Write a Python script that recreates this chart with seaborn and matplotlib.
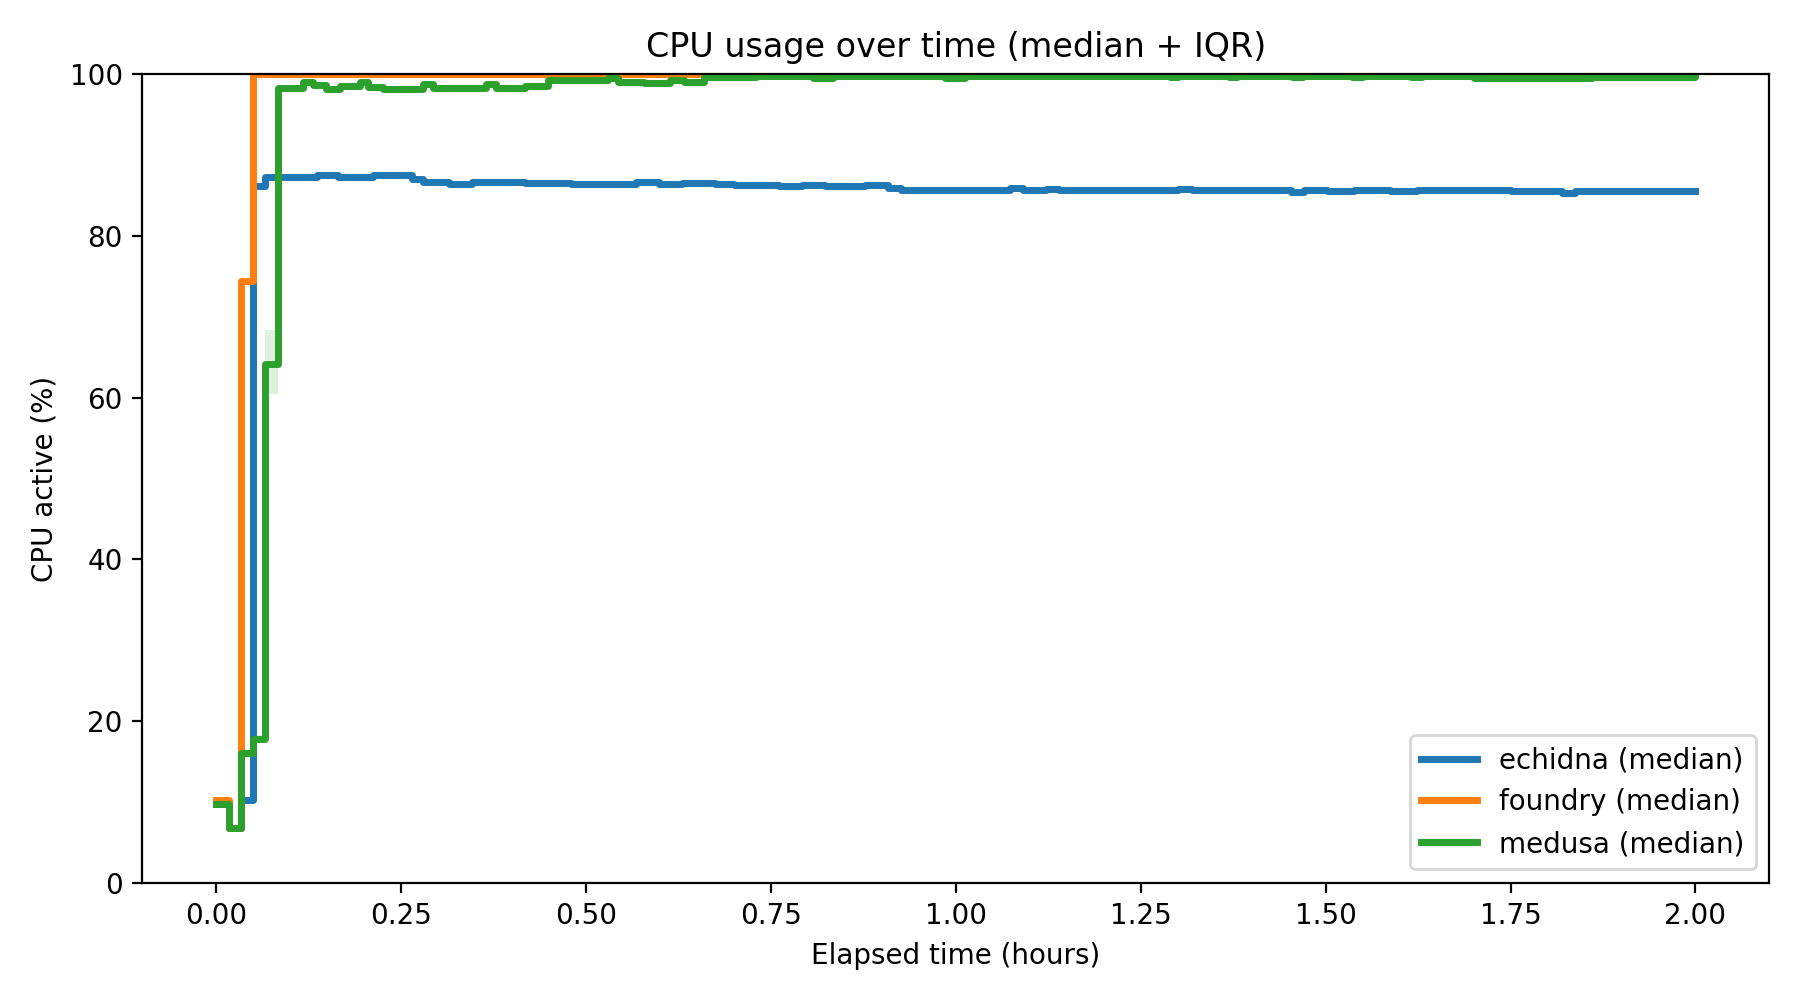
import pandas as pd
import numpy as np
import matplotlib.pyplot as plt
import seaborn as sns

# Median CPU usage as step breakpoints (hours, %)
echidna_t = [0.0, 0.0167, 0.0333, 0.05, 0.0667, 0.136, 0.165, 0.212, 0.265, 0.279,
             0.315, 0.346, 0.418, 0.48, 0.568, 0.599, 0.63, 0.674, 0.70, 0.761,
             0.792, 0.823, 0.877, 0.908, 0.926, 0.944, 0.957, 1.024, 1.073, 1.091,
             1.122, 1.14, 1.301, 1.319, 1.453, 1.471, 1.502, 1.538, 1.587, 1.623,
             1.75, 1.819, 1.837, 2.0]
echidna_v = [9.8, 6.8, 10.3, 86.2, 87.3, 87.55, 87.3, 87.5, 87.0, 86.6,
             86.4, 86.6, 86.5, 86.4, 86.65, 86.4, 86.5, 86.4, 86.3, 86.2,
             86.3, 86.2, 86.3, 85.9, 85.6, 85.7, 85.6, 85.7, 85.85, 85.6,
             85.75, 85.6, 85.75, 85.6, 85.4, 85.6, 85.5, 85.6, 85.5, 85.6,
             85.5, 85.3, 85.5, 85.5]

foundry_t = [0.0, 0.0167, 0.0333, 0.05, 2.0]
foundry_v = [10.3, 6.8, 74.4, 100.0, 100.0]

medusa_t = [0.0, 0.0167, 0.0333, 0.05, 0.0667, 0.0833, 0.118, 0.131, 0.149, 0.167,
            0.194, 0.205, 0.226, 0.28, 0.293, 0.365, 0.378, 0.418, 0.449, 0.53,
            0.543, 0.579, 0.614, 0.632, 0.659, 0.73, 0.807, 0.834, 0.986, 1.012,
            1.29, 1.30, 1.37, 1.38, 1.455, 1.47, 1.535, 1.55, 1.615, 1.63,
            1.70, 1.86, 2.0]
medusa_v = [9.8, 6.8, 16.1, 17.8, 64.2, 98.3, 99.0, 98.6, 98.1, 98.55,
            99.0, 98.4, 98.2, 98.8, 98.3, 98.8, 98.3, 98.55, 99.2, 99.5,
            99.0, 98.9, 99.2, 99.0, 99.6, 99.75, 99.55, 99.75, 99.55, 99.75,
            99.6, 99.75, 99.6, 99.75, 99.6, 99.75, 99.6, 99.75, 99.6, 99.75,
            99.5, 99.6, 99.7]

# IQR band (only visible part, medusa ramp)
medusa_iqr_t = [0.0, 0.0167, 0.0333, 0.05, 0.0667, 0.0833]
medusa_q25 = [9.6, 6.6, 15.9, 17.5, 60.4, 98.1]
medusa_q75 = [10.0, 7.0, 16.3, 18.3, 68.4, 98.5]

frames = []
for name, t, v in [('echidna', echidna_t, echidna_v),
                   ('foundry', foundry_t, foundry_v),
                   ('medusa', medusa_t, medusa_v)]:
    frames.append(pd.DataFrame({'hours': t, 'cpu': v, 'host': name + ' (median)'}))
df = pd.concat(frames, ignore_index=True)

colors = sns.color_palette('tab10', 3)

fig, ax = plt.subplots(figsize=(9, 5), dpi=200)

ax.fill_between(medusa_iqr_t, medusa_q25, medusa_q75, step='post',
                color=colors[2], alpha=0.15, linewidth=0)

sns.lineplot(data=df, x='hours', y='cpu', hue='host', palette=colors,
             estimator=None, drawstyle='steps-post', linewidth=2.5, ax=ax)

ax.set_ylim(0, 100)
ax.set_title('CPU usage over time (median + IQR)')
ax.set_xlabel('Elapsed time (hours)')
ax.set_ylabel('CPU active (%)')
ax.legend(loc='lower right', title=None)

plt.subplots_adjust(left=0.079, right=0.983, top=0.926, bottom=0.117)
plt.savefig('out.png')
